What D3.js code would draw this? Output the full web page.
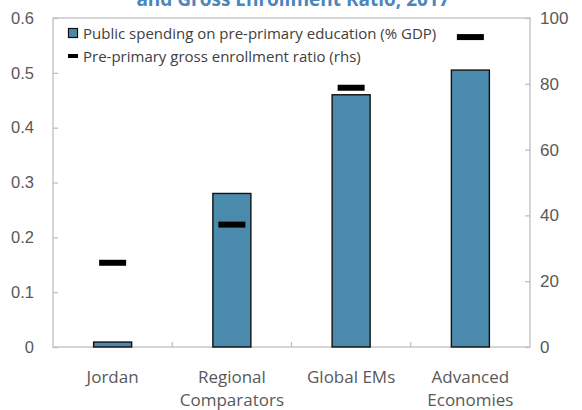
<!DOCTYPE html>
<html><head><meta charset="utf-8">
<script src="https://cdn.jsdelivr.net/npm/d3@7"></script>
<style>body{margin:0;background:#fff;} svg{display:block;font-family:"Open Sans",sans-serif;}</style>
</head><body>
<svg id="c" width="582" height="410"></svg>
<script>
const categories = [["Jordan"], ["Regional", "Comparators"], ["Global EMs"], ["Advanced", "Economies"]];
const spending = [0.009, 0.28, 0.46, 0.505];
const enrollment = [25.6, 37.2, 78.8, 94.2];
const leftTicks = [0, 0.1, 0.2, 0.3, 0.4, 0.5, 0.6];
const rightTicks = [0, 20, 40, 60, 80, 100];
const titleText = "and Gross Enrollment Ratio, 2017";
const legendLabels = ["Public spending on pre-primary education (% GDP)", "Pre-primary gross enrollment ratio (rhs)"];

const svg = d3.select("#c");
const m = {l: 53, r: 530, t: 18, b: 347};
const keys = categories.map((c, i) => i);
const x = d3.scaleBand().domain(keys).range([m.l, m.r]).paddingInner(0).paddingOuter(0);
const yL = d3.scaleLinear().domain([0, 0.6]).range([m.b, m.t]);
const yR = d3.scaleLinear().domain([0, 100]).range([m.b, m.t]);
const grey = "#bfbfbf", txt = "#595959";

svg.append("text").attr("x", 293).attr("y", 6).attr("text-anchor", "middle")
  .attr("font-weight", "bold").attr("font-size", 19).attr("fill", "#4a86bc").text(titleText);

// frame
svg.append("rect").attr("x", m.l).attr("y", m.t).attr("width", m.r - m.l).attr("height", m.b - m.t)
  .attr("fill", "none").attr("stroke", grey).attr("stroke-width", 1.3);

// left axis
const gl = svg.append("g").attr("transform", `translate(${m.l},0)`)
  .call(d3.axisRight(yL).tickValues(leftTicks).tickSize(5).tickFormat(d => d3.format("")(d)));
gl.select(".domain").remove();
gl.selectAll("line").attr("stroke", grey).attr("stroke-width", 1.3);
gl.selectAll("text").attr("x", -19).attr("text-anchor", "end").attr("fill", txt).attr("font-size", 16.5);

// right axis
const gr = svg.append("g").attr("transform", `translate(${m.r},0)`)
  .call(d3.axisLeft(yR).tickValues(rightTicks).tickSize(5));
gr.select(".domain").remove();
gr.selectAll("line").attr("stroke", grey).attr("stroke-width", 1.3);
gr.selectAll("text").attr("x", 10).attr("text-anchor", "start").attr("fill", txt).attr("font-size", 17);

// bottom category boundary ticks
svg.append("g").selectAll("line").data(keys.slice(1)).join("line")
  .attr("x1", d => x(d)).attr("x2", d => x(d)).attr("y1", m.b).attr("y2", m.b - 5)
  .attr("stroke", grey).attr("stroke-width", 1.3);

// category labels
svg.append("g").selectAll("text").data(keys).join("text")
  .attr("x", d => x(d) + x.bandwidth() / 2).attr("y", 383).attr("text-anchor", "middle")
  .attr("fill", txt).attr("font-size", 17)
  .each(function(d) {
    categories[d].forEach((line, j) => {
      d3.select(this).append("tspan").attr("x", x(d) + x.bandwidth() / 2).attr("dy", j === 0 ? 0 : 23).text(line);
    });
  });

// bars
const bw = 38;
svg.append("g").selectAll("rect").data(keys).join("rect")
  .attr("x", d => x(d) + x.bandwidth() / 2 - bw / 2).attr("width", bw)
  .attr("y", d => yL(spending[d])).attr("height", d => yL(0) - yL(spending[d]))
  .attr("fill", "#4a8bad").attr("stroke", "#111").attr("stroke-width", 1.4);

// markers
const mw = 27, mh = 6;
svg.append("g").selectAll("rect").data(keys).join("rect")
  .attr("x", d => x(d) + x.bandwidth() / 2 - mw / 2).attr("width", mw)
  .attr("y", d => yR(enrollment[d]) - mh / 2).attr("height", mh).attr("fill", "#000");

// legend
const lg = svg.append("g");
lg.append("rect").attr("x", 68.5).attr("y", 28.5).attr("width", 9).attr("height", 9)
  .attr("fill", "#4a8bad").attr("stroke", "#111").attr("stroke-width", 1.2);
lg.append("rect").attr("x", 68).attr("y", 54).attr("width", 10).attr("height", 4).attr("fill", "#000");
lg.selectAll("text").data(legendLabels).join("text")
  .attr("x", 83).attr("y", (d, i) => 38.5 + i * 23).attr("fill", "#404040").attr("font-size", 15).text(d => d);
</script>
</body></html>
